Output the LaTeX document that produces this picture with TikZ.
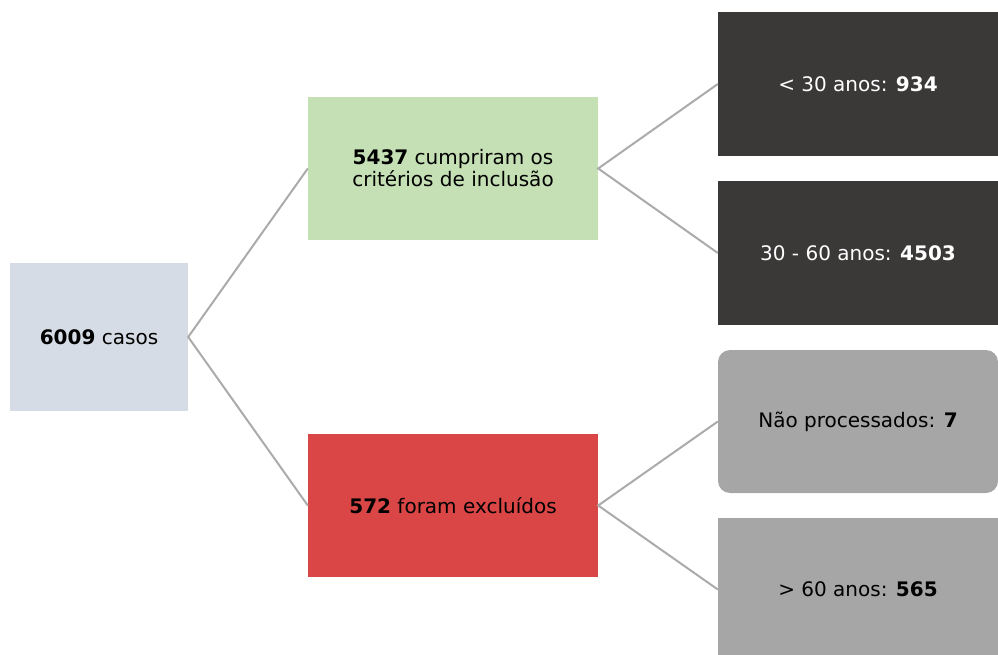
\documentclass[tikz,border=0pt]{standalone}
\usepackage{fontspec}
\setmainfont{DejaVu Sans}
\definecolor{cA}{HTML}{D6DCE5}
\definecolor{cB}{HTML}{C5E0B4}
\definecolor{cC}{HTML}{DA4646}
\definecolor{cD}{HTML}{3B3838}
\definecolor{cG}{HTML}{A6A6A6}
\definecolor{cL}{HTML}{ABABAB}
\tikzset{
  box/.style={rectangle, draw=none, inner sep=0pt, align=center, font=\fontsize{20}{22}\selectfont},
  conn/.style={draw=cL, line width=2pt}
}
\begin{document}
\begin{tikzpicture}[x=1pt,y=-1pt]
\useasboundingbox (0,0) rectangle (998,655);
\node[box, fill=cA, minimum width=178, minimum height=148] (a) at (99,337) {\textbf{6009} casos};
\node[box, fill=cB, minimum width=290, minimum height=143] (b) at (453,168.5) {\textbf{5437} cumpriram os\\critérios de inclusão};
\node[box, fill=cC, minimum width=290, minimum height=143] (c) at (453,505.5) {\textbf{572} foram excluídos};
\node[box, fill=cD, text=white, minimum width=280, minimum height=144] (d) at (858,84) {< 30 anos: \textbf{934}};
\node[box, fill=cD, text=white, minimum width=280, minimum height=144] (e) at (858,253) {30 - 60 anos: \textbf{4503}};
\node[box, fill=cG, rounded corners=12pt, minimum width=280, minimum height=143] (f) at (858,421.5) {Não processados: \textbf{7}};
\node[box, fill=cG, minimum width=280, minimum height=143] (g) at (858,589.5) {> 60 anos: \textbf{565}};
\draw[conn] (b.west) -- (a.east) -- (c.west);
\draw[conn] (d.west) -- (b.east) -- (e.west);
\draw[conn] (f.west) -- (c.east) -- (g.west);
\end{tikzpicture}
\end{document}
